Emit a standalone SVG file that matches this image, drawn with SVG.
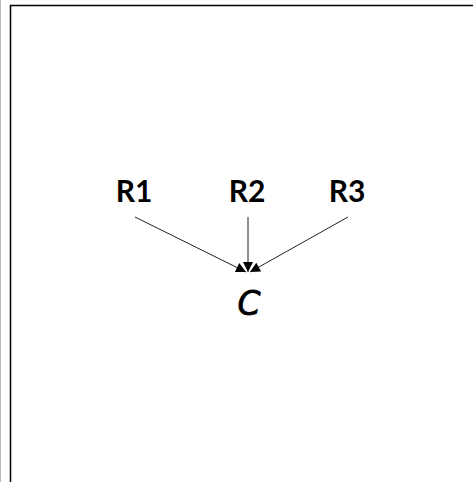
<svg xmlns="http://www.w3.org/2000/svg" width="473" height="482" viewBox="0 0 473 482">
<style>
.lbl{font-family:Lato,"DejaVu Sans","Liberation Sans",sans-serif;font-weight:bold;font-size:30px;fill:#000;text-anchor:middle}
.c{font-family:"DejaVu Sans","Liberation Sans",sans-serif;font-style:oblique;font-weight:normal;font-size:33px;stroke:#000;stroke-width:0.8}
.edge{stroke:#222;stroke-width:1;fill:none}
</style>
<defs>
<marker id="arr" viewBox="0 0 10 10" refX="10" refY="5" markerWidth="11" markerHeight="10" markerUnits="userSpaceOnUse" orient="auto">
<path d="M0,0 L10,5 L0,10 z" fill="#000"/>
</marker>
</defs>
<rect x="0" y="0" width="473" height="482" fill="#fff"/>
<line x1="0.5" y1="0" x2="0.5" y2="482" stroke="#bbb" stroke-width="1"/>
<rect x="10.5" y="5.5" width="480" height="500" fill="none" stroke="#000" stroke-width="1.5"/>
<g id="connectors">
<line class="edge" x1="135" y1="217" x2="246" y2="272" marker-end="url(#arr)"/>
<line class="edge" x1="248" y1="217" x2="248" y2="272" marker-end="url(#arr)"/>
<line class="edge" x1="348" y1="217" x2="250" y2="272" marker-end="url(#arr)"/>
</g>
<g id="R1"><text class="lbl" x="134" y="202">R1</text></g>
<g id="R2"><text class="lbl" x="247" y="202">R2</text></g>
<g id="R3"><text class="lbl" x="347" y="202">R3</text></g>
<g id="C"><text class="lbl c" x="249" y="315">C</text></g>
</svg>
